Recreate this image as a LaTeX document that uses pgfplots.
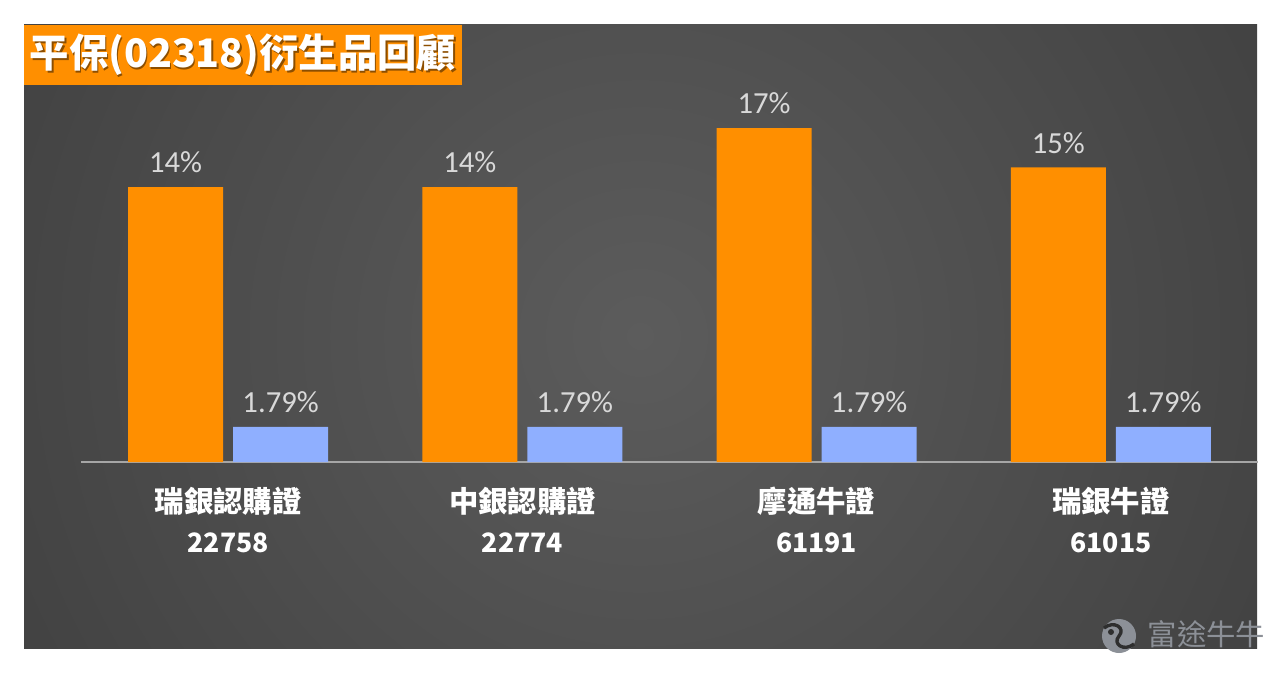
\documentclass[border=0pt]{standalone}
\usepackage{fontspec}
\setmainfont{Carlito}
\newfontfamily\cjk{Noto Sans CJK TC}
\usepackage{pgfplots}
\pgfplotsset{compat=1.18}
\definecolor{barorange}{HTML}{FF8F00}
\definecolor{barblue}{HTML}{8FAFFF}
\definecolor{bgc1}{HTML}{5C5C5C}
\definecolor{bgc2}{HTML}{454545}
\definecolor{bgc3}{HTML}{2E2E2E}
\definecolor{bgc4}{HTML}{242424}
\definecolor{lbl}{HTML}{D9D9D9}
\definecolor{wm}{HTML}{8C9097}
\pgfdeclareradialshading{bgshade}{\pgfpoint{0bp}{0bp}}{color(0bp)=(bgc1); color(25bp)=(bgc2); color(50bp)=(bgc3); color(60bp)=(bgc4)}
\pgfplotstableread{
x val
0 14
1 14
2 17
3 15
}\orangedata
\pgfplotstableread{
x val
0 1.79
1 1.79
2 1.79
3 1.79
}\bluedata
\newcommand{\num}[1]{{\cjk\bfseries\fontsize{20}{30}\selectfont #1}}
\begin{document}
\begin{tikzpicture}[x=0.75pt,y=0.75pt]
\fill[white] (0,0) rectangle (1281,672);
\begin{scope}
\clip (24,24) rectangle (1257,647);
\shade[shading=bgshade] (20,-284) rectangle (1260,956);
\end{scope}
% title
\fill[barorange] (24,587) rectangle (462,647);
\node[text=black, opacity=0.45, font=\cjk\bfseries\fontsize{29.5}{34}\selectfont] at (244.5,615.5) {平保(02318)衍生品回顧};
\node[text=white, font=\cjk\bfseries\fontsize{29.5}{34}\selectfont] at (243,617) {平保(02318)衍生品回顧};
% watermark
\begin{scope}
\fill[wm] (1119,36) circle (17);
\fill[bgc3] (1111,40) circle (3);
\draw[bgc3, line width=2.5pt] (1104,44) .. controls (1114,52) and (1126,44) .. (1119,36) .. controls (1112,28) and (1124,20) .. (1134,28);
\end{scope}
\node[text=wm, font=\cjk\fontsize{22}{24}\selectfont, anchor=west] at (1143,38) {富途牛牛};
\begin{axis}[
  at={(60.75pt,157.5pt)}, anchor=south west,
  scale only axis, width=882.75pt, height=282.75pt,
  xmin=-0.5, xmax=3.5, ymin=0, ymax=19.2,
  axis x line*=bottom, axis y line=none,
  x axis line style={draw=gray!70, line width=1pt},
  ybar, bar width=71.25pt,
  xtick={0,1,2,3},
  xticklabels={{瑞銀認購證\\\num{22758}},{中銀認購證\\\num{22774}},{摩通牛證\\\num{61191}},{瑞銀牛證\\\num{61015}}},
  major tick length=0pt,
  xticklabel style={align=center, text=white, font=\cjk\bfseries\fontsize{22}{30}\selectfont, yshift=-15pt},
  /pgf/number format/assume math mode=true,
  nodes near coords={\pgfmathprintnumber[fixed,precision=2,assume math mode=true]{\pgfplotspointmeta}\%},
  every node near coord/.append style={text=lbl, font=\fontsize{23}{26}\selectfont, yshift=7pt},
  clip=false,
]
\addplot[fill=barorange, draw=none, bar shift=-39.375pt] table[x=x,y=val] {\orangedata};
\addplot[fill=barblue, draw=none, bar shift=39.375pt] table[x=x,y=val] {\bluedata};
\end{axis}
\end{tikzpicture}
\end{document}
